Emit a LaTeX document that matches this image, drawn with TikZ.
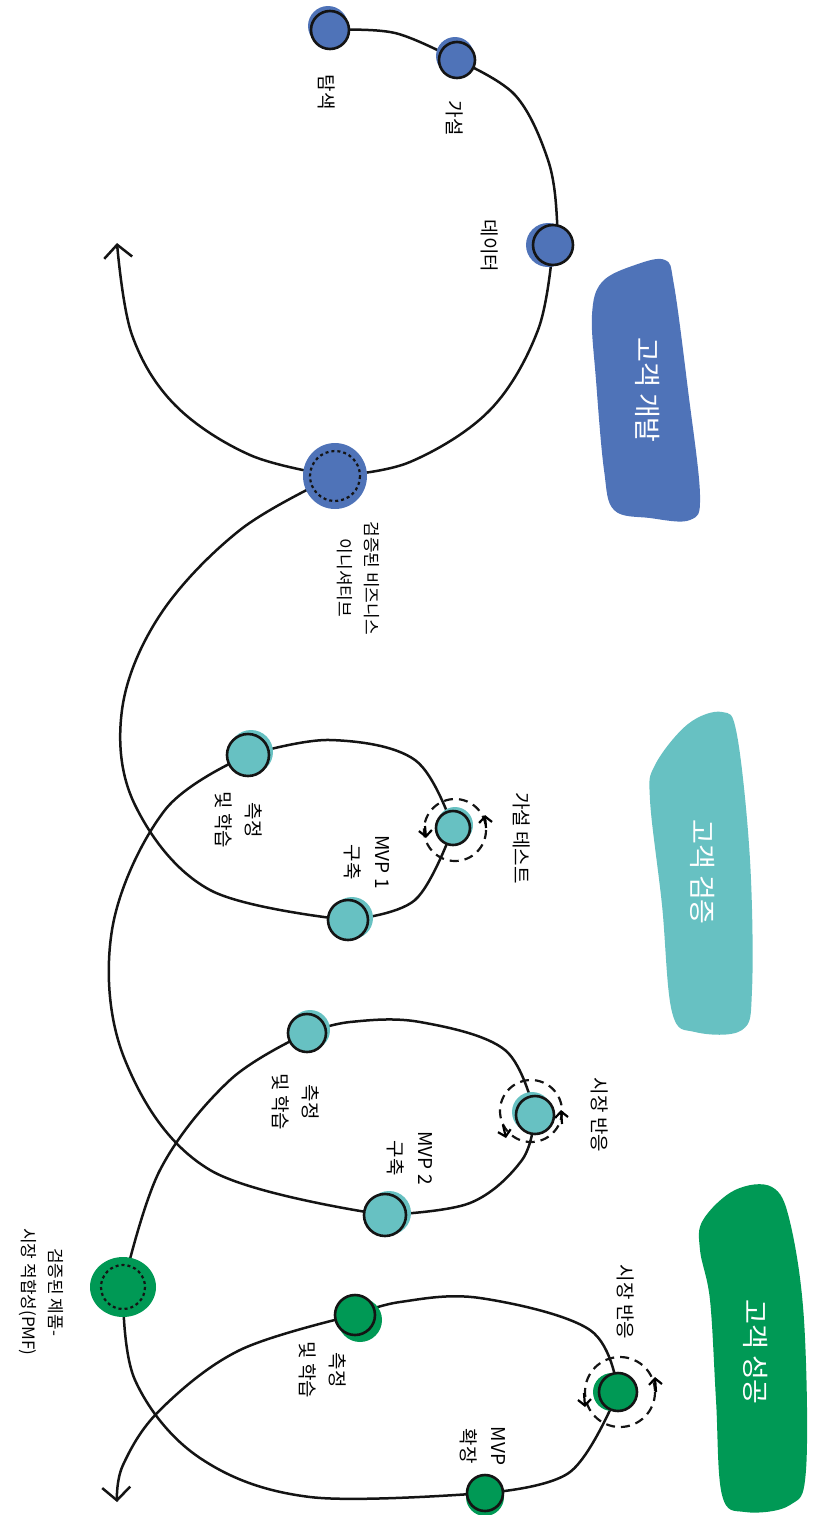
\documentclass[tikz,border=0pt]{standalone}
\usepackage{fontspec}
\setmainfont{Noto Sans CJK KR}
\usetikzlibrary{arrows.meta,calc}
\definecolor{cblue}{HTML}{4F73B8}
\definecolor{cteal}{HTML}{67C1C2}
\definecolor{cgreen}{HTML}{009955}
\begin{document}
\begin{tikzpicture}[x=1pt,y=-1pt,
  curve/.style={line width=2.5pt, draw=black!92},
  dotnode/.style={circle, draw=black!92, line width=2.6pt, inner sep=0pt, minimum size=38pt},
  vlab/.style={font=\fontsize{19}{30}\selectfont, align=center, inner sep=0pt, rotate=-90},
  vlabs/.style={font=\fontsize{17}{27}\selectfont, align=center, inner sep=0pt, rotate=-90},
  boxtext/.style={font=\fontsize{27}{30}\selectfont, text=white, align=center, inner sep=0pt, rotate=-90},
  ring/.style={line width=2.2pt, dash pattern=on 9pt off 6pt, draw=black!92},
  dotring/.style={line width=2.2pt, dash pattern=on 3pt off 3pt, draw=black!92},
  tip/.style={-{Straight Barb[length=6pt,width=13pt]}, line width=2.2pt},
  endtip/.style={-{Straight Barb[length=13pt,width=28pt]}}
]
\useasboundingbox (0,0) rectangle (818,1515);
% coordinates
\coordinate (b1) at (330,30);
\coordinate (b2) at (457,60);
\coordinate (b3) at (553,245);
\coordinate (bv) at (335,476);
\coordinate (endA) at (117,243);
\coordinate (t1) at (248,755);
\coordinate (t2) at (453,828);
\coordinate (t3) at (348,920);
\coordinate (t4) at (307,1033);
\coordinate (t5) at (535,1115);
\coordinate (t6) at (385,1215);
\coordinate (g0) at (123,1287);
\coordinate (g1) at (355,1315);
\coordinate (g2) at (618,1392);
\coordinate (g3) at (485,1493);
\coordinate (endB) at (117,1502);

% stage boxes
\fill[cblue] plot[smooth cycle, tension=0.6] coordinates {(602,282) (635,265) (665,260) (674,285) (688,390) (700,495) (690,520) (650,518) (614,510) (604,470) (596,380) (592,315)};
\fill[cteal] plot[smooth cycle, tension=0.6] coordinates {(655,765) (688,724) (722,712) (737,735) (750,860) (752,990) (742,1030) (695,1032) (672,1012) (662,905) (650,800)};
\fill[cgreen] plot[smooth cycle, tension=0.6] coordinates {(703,1220) (735,1190) (772,1187) (790,1222) (804,1320) (806,1470) (790,1505) (745,1512) (722,1495) (716,1400) (710,1300) (700,1250)};

% main curve
\draw[curve] plot[smooth, tension=0.6] coordinates {(b1) (395,33) (b2)};
\draw[curve] plot[smooth, tension=0.6] coordinates {(b2) (515,95) (548,160) (557,220) (b3)};
\draw[curve] plot[smooth, tension=0.6] coordinates {(b3) (538,330) (490,410) (410,462) (bv)};
\draw[curve, endtip] plot[smooth, tension=0.6] coordinates {(bv) (250,455) (175,405) (132,335) (endA)};
\draw[curve] plot[smooth, tension=0.6] coordinates {(bv) (240,530) (160,615) (122,710) (135,805) (210,890) (t3)};
\draw[curve] plot[smooth, tension=0.6] coordinates {(t3) (415,900) (t2)};
\draw[curve] plot[smooth, tension=0.6] coordinates {(t2) (415,760) (330,740) (t1)};
\draw[curve] plot[smooth, tension=0.6] coordinates {(t1) (165,810) (112,930) (125,1060) (210,1170) (t6)};
\draw[curve] plot[smooth, tension=0.6] coordinates {(t6) (470,1203) (522,1160) (t5)};
\draw[curve] plot[smooth, tension=0.6] coordinates {(t5) (505,1050) (420,1022) (350,1022) (t4)};
\draw[curve] plot[smooth, tension=0.6] coordinates {(t4) (230,1080) (160,1170) (g0)};
\draw[curve] plot[smooth, tension=0.6] coordinates {(g0) (135,1380) (200,1458) (310,1497) (g3)};
\draw[curve] plot[smooth, tension=0.6] coordinates {(g3) (570,1472) (g2)};
\draw[curve] plot[smooth, tension=0.6] coordinates {(g2) (590,1330) (480,1298) (400,1302) (g1)};
\draw[curve, endtip] plot[smooth, tension=0.6] coordinates {(g1) (240,1350) (160,1410) (123,1465) (endB)};

% blue nodes
\fill[cblue] ($(b1)+(-2,-4)$) circle (20);
\node[dotnode, fill=cblue] (B1) at (b1) {};
\fill[cblue] ($(b2)+(-2,-4)$) circle (19);
\node[dotnode, fill=cblue, minimum size=36pt] (B2) at (b2) {};
\fill[cblue] ($(b3)+(-5,0)$) circle (22);
\node[dotnode, fill=cblue, minimum size=40pt] (B3) at (b3) {};
\fill[cblue] (bv) ellipse (32 and 33);
\draw[dotring] (bv) circle (25);
% teal nodes
\fill[cteal] ($(t1)+(3,-3)$) circle (22);
\node[dotnode, fill=cteal, minimum size=42pt] (T1) at (t1) {};
\fill[cteal] ($(t2)+(2,-3)$) circle (18);
\node[dotnode, fill=cteal, minimum size=34pt] (T2) at (t2) {};
\fill[cteal] ($(t3)+(4,-2)$) circle (21);
\node[dotnode, fill=cteal, minimum size=40pt] (T3) at (t3) {};
\fill[cteal] ($(t4)+(3,-3)$) circle (20);
\node[dotnode, fill=cteal, minimum size=38pt] (T4) at (t4) {};
\fill[cteal] ($(t5)+(-3,-3)$) circle (20);
\node[dotnode, fill=cteal, minimum size=38pt] (T5) at (t5) {};
\fill[cteal] ($(t6)+(4,-2)$) circle (22);
\node[dotnode, fill=cteal, minimum size=42pt] (T6) at (t6) {};
% green nodes
\fill[cgreen] (g0) ellipse (33 and 30);
\draw[dotring] (g0) circle (22);
\fill[cgreen] ($(g1)+(5,5)$) circle (22);
\node[dotnode, fill=cgreen, minimum size=40pt] (G1) at (g1) {};
\fill[cgreen] ($(g2)+(-6,0)$) circle (19);
\node[dotnode, fill=cgreen, minimum size=38pt] (G2) at (g2) {};
\fill[cgreen] ($(g3)+(0,4)$) circle (19);
\node[dotnode, fill=cgreen, minimum size=36pt] (G3) at (g3) {};

% activity rings
\draw[ring] ($(t2)+(2,2)$) circle (31);
\draw[tip] (425,826) -- (426,838);
\draw[tip] (486,828) -- (485,815);
\draw[ring] ($(t5)+(-4,-4)$) circle (31);
\draw[tip] (503,1125) -- (506,1138);
\draw[tip] (562,1124) -- (561,1110);
\draw[ring] ($(g2)+(2,0)$) circle (35);
\draw[tip] (584,1393) -- (585,1407);
\draw[tip] (656,1392) -- (655,1377);

% labels (text turned a quarter turn clockwise)
\node[vlab] (l1) at (327,92) {탐색};
\node[vlab] (l2) at (455,118) {가설};
\node[vlab] (l3) at (490,246) {데이터};
\node[vlabs] (l4) at (358,578) {검증된 비즈니스\\이니셔티브};
\node[vlab] (l5) at (239,820) {측정\\및 학습};
\node[vlab] (l6) at (367,862) {MVP 1\\구축};
\node[vlab] (l7) at (522,838) {가설 테스트};
\node[vlab] (l8) at (296,1102) {측정\\및 학습};
\node[vlab] (l9) at (410,1158) {MVP 2\\구축};
\node[vlab] (l10) at (600,1115) {시장 반응};
\node[vlabs] (l11) at (41,1292) {검증된 제품-\\시장 적합성(PMF)};
\node[vlab] (l12) at (323,1370) {측정\\및 학습};
\node[vlab] (l13) at (483,1446) {MVP\\확장};
\node[vlab] (l14) at (626,1302) {시장 반응};

% stage names
\node[boxtext] (x1) at (648,390) {고객 개발};
\node[boxtext] (x2) at (703,872) {고객 검증};
\node[boxtext] (x3) at (756,1352) {고객 성공};
\end{tikzpicture}
\end{document}
